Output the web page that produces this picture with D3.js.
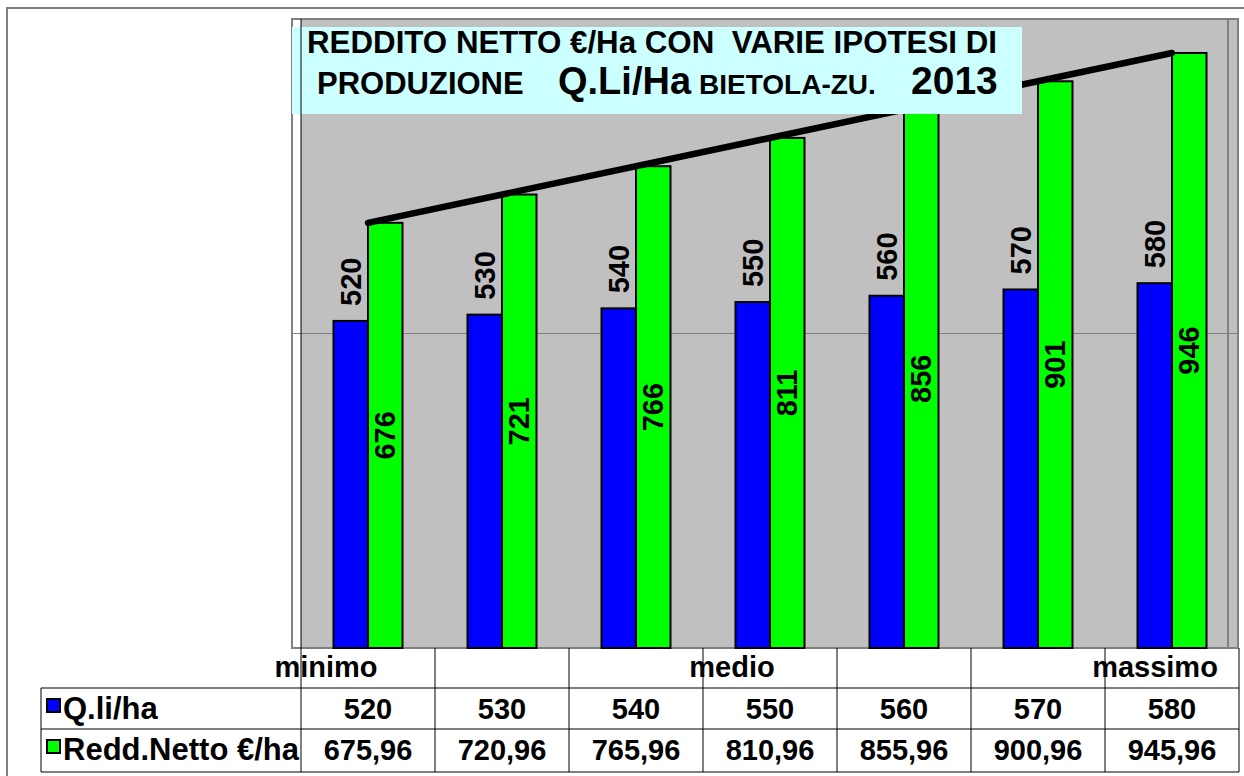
<!DOCTYPE html>
<html>
<head>
<meta charset="utf-8">
<script src="https://cdn.jsdelivr.net/npm/d3@7"></script>
<style>
  body { margin: 0; background: #fff; }
  svg { display: block; }
  text { font-family: "Liberation Sans", Arial, sans-serif; font-weight: bold; fill: #000; }
</style>
</head>
<body>
<div id="chart"></div>
<script>
// values
const categories = ["minimo", "", "", "medio", "", "", "massimo"];
const quintali = [520, 530, 540, 550, 560, 570, 580];
const redditoNetto = [675.96, 720.96, 765.96, 810.96, 855.96, 900.96, 945.96];
const seriesNames = ["Q.li/ha", "Redd.Netto €/ha"];
const yTicks = [500];
const yDomain = [0, 1000];

const width = 1244;
const height = 776;

// plot + table layout
const plot = { left: 292, axis: 301, right: 1239, top: 19, bottom: 648 };
const table = { left: 41, headerBottom: 688, row1Bottom: 729, bottom: 772 };
const barWidth = 34.5;
const labelFont = 29;
const catOffsets = [-42, 0, 0, -38, 0, 0, -17]; // label nudges, like the original

const itLocale = d3.formatLocale({ decimal: ",", thousands: ".", grouping: [3], currency: ["€", ""] });
const fmt2 = itLocale.format(".2f");
const fmt0 = d3.format(".0f");

const svg = d3.select("#chart")
  .append("svg")
  .attr("width", width)
  .attr("height", height);

// outer chart border
svg.append("rect")
  .attr("x", 7).attr("y", 8)
  .attr("width", width + 20).attr("height", height + 20)
  .attr("fill", "#fff")
  .attr("stroke", "#808080")
  .attr("stroke-width", 2);

const idx = d3.range(categories.length);

const x = d3.scaleBand()
  .domain(idx)
  .range([plot.axis, plot.right])
  .padding(0);

const xSeries = d3.scaleBand()
  .domain([0, 1])
  .range([-barWidth, barWidth]);

const y = d3.scaleLinear()
  .domain(yDomain)
  .range([plot.bottom, plot.top]);

// plot area: frame, white strip, gray wall
svg.append("rect")
  .attr("x", plot.left).attr("y", plot.top)
  .attr("width", plot.right - 1 - plot.left)
  .attr("height", plot.bottom - plot.top)
  .attr("fill", "#fff")
  .attr("stroke", "#808080")
  .attr("stroke-width", 2);

svg.append("rect")
  .attr("x", plot.axis).attr("y", plot.top + 1)
  .attr("width", plot.right - 2 - plot.axis)
  .attr("height", plot.bottom - plot.top - 2)
  .attr("fill", "#c0c0c0");

svg.append("line")
  .attr("x1", plot.right - 11).attr("x2", plot.right - 11)
  .attr("y1", plot.top).attr("y2", plot.bottom)
  .attr("stroke", "#808080")
  .attr("stroke-width", 2);

// gridlines
svg.selectAll(".grid")
  .data(yTicks)
  .join("line")
  .attr("class", "grid")
  .attr("x1", plot.left + 1)
  .attr("x2", plot.right - 1)
  .attr("y1", d => y(d))
  .attr("y2", d => y(d))
  .attr("stroke", "#808080")
  .attr("stroke-width", 1);

// bars
const groups = svg.selectAll(".cat")
  .data(idx)
  .join("g")
  .attr("class", "cat")
  .attr("transform", i => `translate(${x(i) + x.bandwidth() / 2}, 0)`);

groups.append("rect")
  .attr("x", xSeries(0))
  .attr("width", xSeries.bandwidth())
  .attr("y", i => y(quintali[i]))
  .attr("height", i => plot.bottom - y(quintali[i]))
  .attr("fill", "#0000ff")
  .attr("stroke", "#000")
  .attr("stroke-width", 2);

groups.append("rect")
  .attr("x", xSeries(1))
  .attr("width", xSeries.bandwidth())
  .attr("y", i => y(redditoNetto[i]))
  .attr("height", i => plot.bottom - y(redditoNetto[i]))
  .attr("fill", "#00ff00")
  .attr("stroke", "#000")
  .attr("stroke-width", 2);

// blue labels above the bar, green labels inside
groups.append("text")
  .attr("transform", i => `translate(${xSeries(0) + xSeries.bandwidth() / 2}, ${y(quintali[i]) - 15}) rotate(-90)`)
  .attr("text-anchor", "start")
  .attr("dominant-baseline", "central")
  .attr("font-size", labelFont)
  .text(i => quintali[i]);

groups.append("text")
  .attr("transform", i => `translate(${xSeries(1) + xSeries.bandwidth() / 2}, ${(y(redditoNetto[i]) + plot.bottom) / 2}) rotate(-90)`)
  .attr("text-anchor", "middle")
  .attr("dominant-baseline", "central")
  .attr("font-size", labelFont)
  .text(i => fmt0(redditoNetto[i]));

// trend line over the green tops
const trend = d3.line()
  .x(i => x(i) + x.bandwidth() / 2)
  .y(i => y(redditoNetto[i]));

svg.append("path")
  .datum([0, idx.length - 1])
  .attr("d", trend)
  .attr("fill", "none")
  .attr("stroke", "#000")
  .attr("stroke-width", 6.5)
  .attr("stroke-linecap", "round");

// title box
svg.append("rect")
  .attr("x", 292).attr("y", 27)
  .attr("width", 730).attr("height", 87)
  .attr("fill", "#ccffff");

const title = svg.append("g").attr("class", "title");
title.append("text")
  .attr("x", 307).attr("y", 53)
  .attr("font-size", 31)
  .attr("textLength", 690)
  .attr("lengthAdjust", "spacingAndGlyphs")
  .style("white-space", "pre")
  .text("REDDITO NETTO €/Ha CON  VARIE IPOTESI DI");

const t2 = title.append("text").attr("y", 94);
t2.append("tspan").attr("x", 317).attr("font-size", 31).text("PRODUZIONE");
t2.append("tspan").attr("x", 558).attr("font-size", 38).text("Q.Li/Ha");
t2.append("tspan").attr("x", 699).attr("font-size", 28).text("BIETOLA-ZU.");
t2.append("tspan").attr("x", 911).attr("font-size", 39).text("2013");

// data table
const tbl = svg.append("g").attr("class", "table");

[table.headerBottom, table.row1Bottom, table.bottom].forEach(yy => {
  tbl.append("line")
    .attr("x1", table.left).attr("x2", plot.right)
    .attr("y1", yy).attr("y2", yy)
    .attr("stroke", "#000");
});

tbl.append("line")
  .attr("x1", table.left).attr("x2", table.left)
  .attr("y1", table.headerBottom).attr("y2", table.bottom)
  .attr("stroke", "#000");

tbl.selectAll(".col")
  .data(idx.concat([idx.length]))
  .join("line")
  .attr("class", "col")
  .attr("x1", i => i < idx.length ? x(i) : plot.right)
  .attr("x2", i => i < idx.length ? x(i) : plot.right)
  .attr("y1", i => i === 0 ? plot.top : plot.bottom)
  .attr("y2", table.bottom)
  .attr("stroke", "#000");

tbl.selectAll(".cat-label")
  .data(idx)
  .join("text")
  .attr("class", "cat-label")
  .attr("x", i => x(i) + x.bandwidth() / 2 + catOffsets[i])
  .attr("y", 677)
  .attr("text-anchor", "middle")
  .attr("font-size", labelFont)
  .text(i => categories[i]);

const rows = [
  { name: seriesNames[0], color: "#0000ff", values: quintali.map(v => String(v)), base: 719 },
  { name: seriesNames[1], color: "#00ff00", values: redditoNetto.map(fmt2), base: 760 }
];

rows.forEach(r => {
  tbl.append("rect")
    .attr("x", 47).attr("y", r.base - 20)
    .attr("width", 13).attr("height", 13)
    .attr("fill", r.color)
    .attr("stroke", "#000")
    .attr("stroke-width", 2);

  tbl.append("text")
    .attr("x", 63).attr("y", r.base)
    .attr("font-size", 31)
    .text(r.name);

  tbl.selectAll(null)
    .data(idx)
    .join("text")
    .attr("x", i => x(i) + x.bandwidth() / 2)
    .attr("y", r.base)
    .attr("text-anchor", "middle")
    .attr("font-size", labelFont)
    .text(i => r.values[i]);
});
</script>
</body>
</html>
